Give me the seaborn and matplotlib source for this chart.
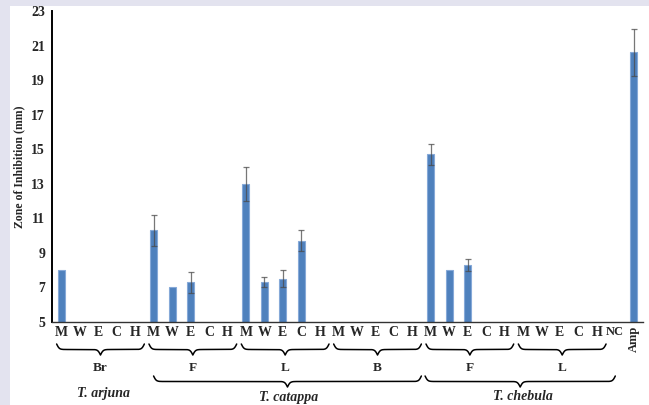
import numpy as np
import pandas as pd
import matplotlib
matplotlib.use("Agg")
import matplotlib.pyplot as plt
import matplotlib.transforms as mtransforms
import seaborn as sns

# ---- data ----
tick_labels = ["M", "W", "E", "C", "H"] * 6 + ["NC", "Amp"]
values = [8.0, np.nan, np.nan, np.nan, np.nan,          # T. arjuna Br
          10.3, 7.0, 7.3, np.nan, np.nan,               # T. catappa F
          13.0, 7.3, 7.5, 9.7, np.nan,                  # T. catappa L
          np.nan, np.nan, np.nan, np.nan, np.nan,       # T. catappa B
          14.7, 8.0, 8.3, np.nan, np.nan,               # T. chebula F
          np.nan, np.nan, np.nan, np.nan, np.nan,       # T. chebula L
          np.nan, 20.6]                                 # NC, Amp
errors = [0, 0, 0, 0, 0,
          0.9, 0, 0.6, 0, 0,
          1.0, 0.3, 0.5, 0.6, 0,
          0, 0, 0, 0, 0,
          0.6, 0, 0.35, 0, 0,
          0, 0, 0, 0, 0,
          0, 1.35]
groups = ["Br", "F", "L", "B", "F", "L"]
species = ["T. arjuna", "T. catappa", "T. chebula"]

ids = [f"c{i}" for i in range(len(values))]
df = pd.DataFrame({"id": ids, "value": values})

sns.set_style("white")
plt.rcParams["font.family"] = ["Liberation Serif", "DejaVu Serif"]

fig = plt.figure(figsize=(6.49, 4.05), dpi=100)
fig.patch.set_facecolor("#e3e3ef")
bg = plt.Rectangle((10 / 649, 0), 1, 1 - 6 / 405, transform=fig.transFigure,
                   facecolor="white", edgecolor="none", zorder=-10)
fig.add_artist(bg)

ax = fig.add_axes([52 / 649, 83 / 405, 591 / 649, 311 / 405])
ax.set_zorder(5)
ax.set_facecolor("none")

sns.barplot(data=df, x="id", y="value", order=ids, ax=ax, width=0.38,
            color="#4f81bd", edgecolor="#86a9d8", linewidth=0.8, saturation=1, errorbar=None)

xs = np.arange(len(values))
for x, v, e in zip(xs, values, errors):
    if not np.isnan(v) and e > 0:
        ax.errorbar(x, v, yerr=e, fmt="none", ecolor="#4a4a4a", elinewidth=0.9,
                    capsize=2, capthick=0.9, alpha=0.75, zorder=5)

ax.set_xlim(-0.5, len(values) - 0.5)
ax.set_ylim(5, 23)
ax.set_yticks(np.arange(5, 24, 2))
ax.tick_params(axis="y", labelsize=10, length=3, width=1, pad=2)
for lab in ax.get_yticklabels():
    lab.set_fontweight("bold")

ax.set_xticks(xs)
ax.set_xticklabels(tick_labels, fontsize=10, fontweight="bold")
ax.tick_params(axis="x", length=0, pad=3)
ax.set_xticks(np.arange(-0.5, len(values), 1), minor=True)
ax.tick_params(axis="x", which="minor", length=3, width=0.8, color="#555555")
xl = ax.get_xticklabels()
xl[-2].set_fontsize(9)
xl[-1].set_rotation(90)
xl[-1].set_va("top")
xl[-1].set_fontsize(9)

ax.set_xlabel("")
ax.set_ylabel("Zone of Inhibition (mm)", fontsize=8.5, fontweight="bold", labelpad=4)

for s in ["top", "right"]:
    ax.spines[s].set_visible(False)
ax.spines["left"].set_linewidth(1.4)
ax.spines["bottom"].set_linewidth(1.0)
ax.spines["left"].set_color("black")
ax.spines["bottom"].set_color("#333333")

trans = mtransforms.blended_transform_factory(ax.transData, ax.transAxes)


def brace(x0, x1, ytop, ytip, beta=14):
    n = 200
    xm = (x0 + x1) / 2
    xh = np.linspace(x0, xm, n)
    yh = 1 / (1 + np.exp(-beta * (xh - xh[0]))) + 1 / (1 + np.exp(-beta * (xh - xh[-1])))
    xx = np.concatenate([xh, (2 * xm - xh)[::-1]])
    yy = np.concatenate([yh, yh[::-1]])
    yy = ytop + (yy - 0.5) * (ytip - ytop)
    ax.plot(xx, yy, color="black", lw=1.1, transform=trans, clip_on=False)


px = 1 / 311
top1, tip1 = -(344 - 322) * px, -(355 - 322) * px
for g, name in enumerate(groups):
    i0 = g * 5
    brace(i0 - 0.25, i0 + 4.5, top1, tip1)
    ax.text(i0 + 2.1, -(368 - 322) * px, name, transform=trans, ha="center", va="center",
            fontsize=9.5, fontweight="bold")

top2, tip2 = -(376 - 322) * px, -(387 - 322) * px
brace(5.0, 19.5, top2, tip2)
brace(19.7, 30.0, top2, tip2)
sp_pos = [(2.3, 393), (12.3, 397), (25.0, 397)]
for name, (x, y) in zip(species, sp_pos):
    ax.text(x, -(y - 322) * px, name, transform=trans, ha="center", va="center",
            fontsize=10, fontweight="bold", fontstyle="italic")

fig.savefig("out.png", dpi=100, facecolor=fig.get_facecolor())
